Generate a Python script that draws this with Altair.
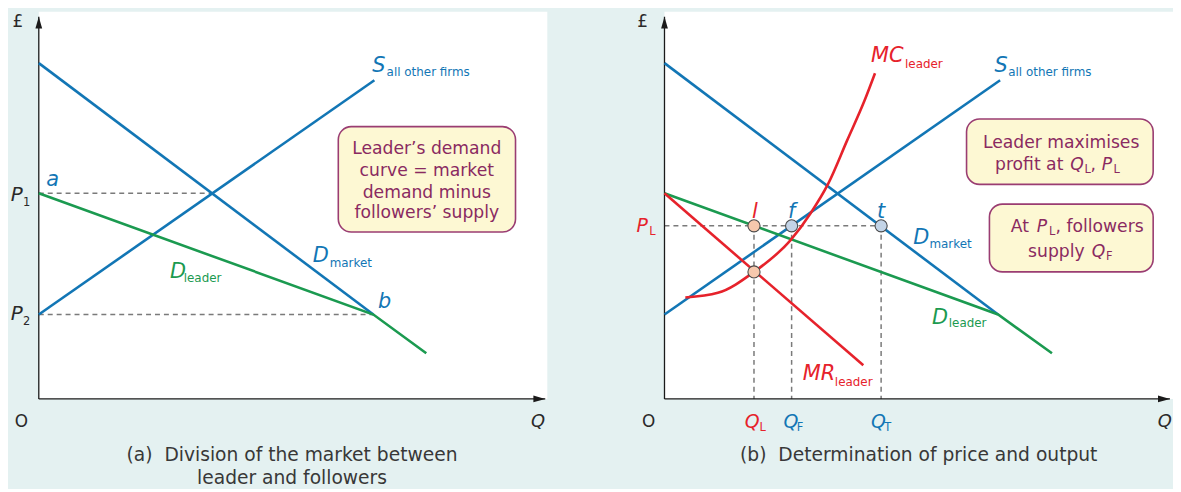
import altair as alt
import pandas as pd

FONT = "DejaVu Sans"
BG = "#e4f1f1"
BOX_FILL = "#fdf8d3"
BOX_STROKE = "#9a3d72"
BOX_TEXT = "#8a2a61"
CAPTION = "#383838"

CURVES = ["market", "followers", "leader", "leader_cost", "axis"]
CURVE_COLORS = ["#1276b5", "#1276b5", "#1b9a50", "#e6222b", "#2a2a2a"]

# ---------------- Panel (a) data (quantity / price units 0-100) ----------------
A_DMARKET_Q = [0, 65.8]
A_DMARKET_P = [86.7, 21.8]
A_SUPPLY_Q = [0, 66.0]
A_SUPPLY_P = [21.8, 82.3]
A_DLEADER_Q = [0, 65.8, 76.2]
A_DLEADER_P = [53.1, 21.8, 11.8]
A_P1 = 53.1
A_P2 = 21.8
A_Q1 = 34.2
A_QB = 65.8

# ---------------- Panel (b) data ----------------
B_DMARKET_Q = [0, 65.6]
B_DMARKET_P = [86.7, 21.8]
B_SUPPLY_Q = [0, 66.0]
B_SUPPLY_P = [21.8, 82.3]
B_DLEADER_Q = [0, 65.6, 76.2]
B_DLEADER_P = [53.1, 21.8, 11.8]
B_MR_Q = [0, 39.1]
B_MR_P = [53.1, 8.7]
B_MC_Q = [4.1, 10.5, 17.6, 24.8, 28.7, 32.2, 35.9, 39.3, 41.4]
B_MC_P = [26.2, 27.4, 32.8, 41.0, 47.9, 55.6, 66.7, 76.9, 84.1]
B_PL = 44.7
B_QL = 17.6
B_QF = 25.0
B_QT = 42.6
B_MCMR_P = 32.8

# ---------------- Labels ----------------
A_MAIN = dict(t=["S", "D", "D"], x=[65.6, 53.9, 25.8], y=[85.9, 36.9, 32.8],
              c=["followers", "market", "leader"])
A_SUB = dict(t=["all other firms", "market", "leader"], x=[68.4, 57.2, 28.5], y=[84.4, 35.0, 31.2],
             c=["followers", "market", "leader"])
A_PTS = dict(t=["a", "b"], x=[2.7, 68.0], y=[56.4, 24.9], c=["market", "market"])
A_P = dict(t=["P", "P"], x=[-5.5, -5.5], y=[52.6, 21.8], c=["axis", "axis"])
A_PSUB = dict(t=["1", "2"], x=[-3.1, -3.1], y=[50.6, 19.8], c=["axis", "axis"])
A_O = dict(t=["O"], x=[-3.4], y=[-5.9], c=["axis"])
A_QAX = dict(t=["Q"], x=[98.2], y=[-5.9], c=["axis"])
A_POUND = dict(t=["£"], x=[-4.1], y=[97.4], c=["axis"])
A_BOX = dict(x0=[58.9], x1=[93.75], y0=[70.3], y1=[43.1])
A_BOX_LINES = dict(t=["Leader’s demand", "curve = market", "demand minus", "followers’ supply"],
                   x=[76.3] * 4, y=[64.5, 58.8, 53.2, 47.9])
A_CAPTION = dict(t=["(a)\u00a0\u00a0Division of the market between", "leader and followers"],
                 x=[49.8, 49.8], y=[-14.4, -20.3])

B_MAIN = dict(t=["MC", "S", "D", "D", "MR"], x=[40.6, 64.9, 48.9, 52.6, 27.2],
              y=[88.5, 85.9, 41.5, 21.0, 6.4],
              c=["leader_cost", "followers", "market", "leader", "leader_cost"])
B_SUB = dict(t=["leader", "all other firms", "market", "leader", "leader"],
             x=[47.3, 67.6, 52.1, 55.9, 33.5], y=[86.5, 84.4, 39.9, 19.6, 4.5],
             c=["leader_cost", "followers", "market", "leader", "leader_cost"])
B_PTS = dict(t=["l", "f", "t"], x=[17.8, 25.0, 42.6], y=[48.2, 48.2, 48.2],
             c=["leader_cost", "followers", "market"])
B_AXMAIN = dict(t=["P", "Q", "Q", "Q"], x=[-5.5, 15.8, 23.4, 40.6], y=[44.6, -5.9, -5.9, -5.9],
                c=["leader_cost", "leader_cost", "followers", "market"])
B_AXSUB = dict(t=["L", "L", "F", "T"], x=[-3.0, 18.7, 26.0, 43.2], y=[43.1, -7.5, -7.5, -7.5],
               c=["leader_cost", "leader_cost", "followers", "market"])
B_O = dict(t=["O"], x=[-3.1], y=[-5.9], c=["axis"])
B_QAX = dict(t=["Q"], x=[98.4], y=[-5.9], c=["axis"])
B_POUND = dict(t=["£"], x=[-4.3], y=[97.4], c=["axis"])
B_BOX = dict(x0=[59.4, 63.9], x1=[96.1, 96.1], y0=[72.3, 50.3], y1=[55.4, 32.8])
B_BOX_CENTER = dict(t=["Leader maximises"], x=[78.0], y=[66.2])
B_BOX_NORMAL = dict(t=["profit at", ",", "At", ", followers", "supply"],
                    x=[65.0, 83.8, 68.1, 76.9, 71.5], y=[60.3, 60.3, 44.4, 44.4, 37.9])
B_BOX_ITALIC = dict(t=["Q", "P", "P", "Q"], x=[79.8, 86.0, 73.2, 84.0], y=[60.3, 60.3, 44.4, 37.9])
B_BOX_SUB = dict(t=["L", "L", "L", "F"], x=[82.6, 88.3, 75.6, 86.8], y=[59.1, 59.1, 43.2, 36.7])
B_CAPTION = dict(t=["(b)\u00a0\u00a0Determination of price and output"], x=[50.0], y=[-14.4])

AX_Y_TOP = 98.7
AX_X_END_A = 99.6
AX_X_END_B = 99.4

# ---------------- helpers ----------------
SC = alt.Scale(domain=[0, 100], nice=False, zero=False)


def X(f="x"):
    return alt.X(f"{f}:Q", scale=SC, axis=None)


def Y(f="y"):
    return alt.Y(f"{f}:Q", scale=SC, axis=None)


COLOR = alt.Color("c:N", scale=alt.Scale(domain=CURVES, range=CURVE_COLORS), legend=None)


def lines_df(items):
    rows = []
    for k, (name, qs, ps) in enumerate(items):
        for i, (q, p) in enumerate(zip(qs, ps)):
            rows.append(dict(x=q, y=p, c=name, s=f"{name}{k}", o=i))
    return pd.DataFrame(rows)


def curve_layer(items, interp="linear"):
    df = lines_df(items)
    return alt.Chart(df).mark_line(strokeWidth=2.6, interpolate=interp, strokeCap="butt").encode(
        x=X(), y=Y(), color=COLOR, detail="s:N", order="o:Q")


def dash_layer(x, x2, y, y2):
    df = pd.DataFrame(dict(x=x, x2=x2, y=y, y2=y2))
    return alt.Chart(df).mark_rule(color="#7a7a7a", strokeWidth=1.5, strokeDash=[5, 4]).encode(
        x=X(), x2="x2:Q", y=Y(), y2="y2:Q")


def text_layer(d, size, style="normal", align="left", color=None):
    df = pd.DataFrame(d)
    kw = dict(font=FONT, fontSize=size, fontStyle=style, align=align, baseline="middle")
    if color is not None:
        kw["color"] = color
        return alt.Chart(df).mark_text(**kw).encode(x=X(), y=Y(), text="t:N")
    return alt.Chart(df).mark_text(**kw).encode(x=X(), y=Y(), text="t:N", color=COLOR)


def axes_layers(xend):
    ax = pd.DataFrame(dict(x=[0, 0], x2=[0, xend], y=[0, 0], y2=[AX_Y_TOP, 0]))
    rules = alt.Chart(ax).mark_rule(color="#1a1a1a", strokeWidth=1.3).encode(
        x=X(), x2="x2:Q", y=Y(), y2="y2:Q")
    up = alt.Chart(pd.DataFrame(dict(x=[0], y=[AX_Y_TOP]))).mark_point(
        shape="M0,0 L-0.85,3 L0.85,3 Z", filled=True, size=64, color="#1a1a1a", opacity=1
    ).encode(x=X(), y=Y())
    right = alt.Chart(pd.DataFrame(dict(x=[xend], y=[0]))).mark_point(
        shape="M0,0 L-3,-0.85 L-3,0.85 Z", filled=True, size=64, color="#1a1a1a", opacity=1
    ).encode(x=X(), y=Y())
    return [rules, up, right]


def box_layer(d):
    df = pd.DataFrame(d)
    return alt.Chart(df).mark_rect(cornerRadius=13, fill=BOX_FILL, stroke=BOX_STROKE,
                                   strokeWidth=1.6).encode(
        x=alt.X("x0:Q", scale=SC, axis=None), x2="x1:Q",
        y=alt.Y("y0:Q", scale=SC, axis=None), y2="y1:Q")


MAIN_SIZE = 21
SUB_SIZE = 12
BOX_SIZE = 17.3
CAP_SIZE = 18.8

# ---------------- panel (a) ----------------
panel_a = alt.layer(
    dash_layer([0, 0], [A_Q1, A_QB], [A_P1, A_P2], [A_P1, A_P2]),
    *axes_layers(AX_X_END_A),
    curve_layer([("market", A_DMARKET_Q, A_DMARKET_P),
                 ("followers", A_SUPPLY_Q, A_SUPPLY_P),
                 ("leader", A_DLEADER_Q, A_DLEADER_P)]),
    text_layer(A_MAIN, MAIN_SIZE, "italic"),
    text_layer(A_SUB, SUB_SIZE),
    text_layer(A_PTS, MAIN_SIZE, "italic", "center"),
    text_layer(A_P, 20, "italic"),
    text_layer(A_PSUB, 11.5),
    text_layer(A_O, 17, "normal", "center"),
    text_layer(A_QAX, 18, "italic", "center"),
    text_layer(A_POUND, 17, "normal", "center"),
    box_layer(A_BOX),
    text_layer(A_BOX_LINES, BOX_SIZE, "normal", "center", BOX_TEXT),
    text_layer(A_CAPTION, CAP_SIZE, "normal", "center", CAPTION),
).properties(width=512, height=390)

# ---------------- panel (b) ----------------
pts_df = pd.DataFrame(dict(x=[B_QL, B_QF, B_QT, B_QL], y=[B_PL, B_PL, B_PL, B_MCMR_P],
                           k=["leader", "followers", "followers", "leader"]))
points = alt.Chart(pts_df).mark_point(filled=True, size=150, stroke="#4a4a4a", strokeWidth=1.1,
                                       opacity=1).encode(
    x=X(), y=Y(),
    fill=alt.Fill("k:N", scale=alt.Scale(domain=["leader", "followers"],
                                         range=["#f6c8ad", "#c3d4e7"]), legend=None))

panel_b = alt.layer(
    dash_layer([0, B_QL, B_QF, B_QT], [B_QT, B_QL, B_QF, B_QT],
               [B_PL, B_PL, B_PL, B_PL], [B_PL, 0, 0, 0]),
    *axes_layers(AX_X_END_B),
    curve_layer([("market", B_DMARKET_Q, B_DMARKET_P),
                 ("followers", B_SUPPLY_Q, B_SUPPLY_P),
                 ("leader", B_DLEADER_Q, B_DLEADER_P),
                 ("leader_cost", B_MR_Q, B_MR_P)]),
    curve_layer([("leader_cost", B_MC_Q, B_MC_P)], "monotone"),
    points,
    text_layer(B_MAIN, MAIN_SIZE, "italic"),
    text_layer(B_SUB, SUB_SIZE),
    text_layer(B_PTS, MAIN_SIZE, "italic", "center"),
    text_layer(B_AXMAIN, 19, "italic"),
    text_layer(B_AXSUB, 11.5),
    text_layer(B_O, 17, "normal", "center"),
    text_layer(B_QAX, 18, "italic", "center"),
    text_layer(B_POUND, 17, "normal", "center"),
    box_layer(B_BOX),
    text_layer(B_BOX_CENTER, BOX_SIZE, "normal", "center", BOX_TEXT),
    text_layer(B_BOX_NORMAL, BOX_SIZE, "normal", "left", BOX_TEXT),
    text_layer(B_BOX_ITALIC, BOX_SIZE, "italic", "left", BOX_TEXT),
    text_layer(B_BOX_SUB, 11.5, "normal", "left", BOX_TEXT),
    text_layer(B_CAPTION, CAP_SIZE, "normal", "center", CAPTION),
).properties(width=512, height=390)

chart = alt.hconcat(panel_a, panel_b, spacing=118, bounds="flush").properties(
    background=BG, padding={"left": 2, "top": 2, "right": 0, "bottom": 0}
).configure_view(fill="white", strokeWidth=0)

chart.save("out.html", embed_options={"renderer": "svg", "actions": False})
